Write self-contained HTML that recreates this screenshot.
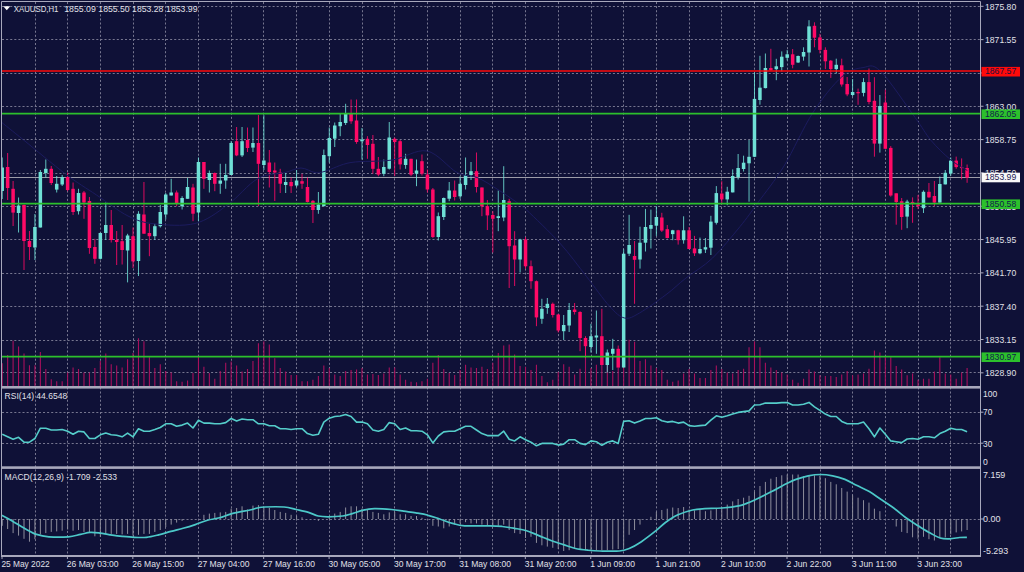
<!DOCTYPE html>
<html><head><meta charset="utf-8"><style>
html,body{margin:0;padding:0;background:#0f1137;width:1024px;height:572px;overflow:hidden}
text{white-space:pre}
</style></head><body><svg width="1024" height="572" viewBox="0 0 1024 572" style="display:block">
<rect x="0" y="0" width="1024" height="572" fill="#0f1137"/>
<defs>
<clipPath id="cm"><rect x="1.5" y="1.5" width="478.5" height="385"/></clipPath>
<clipPath id="main"><rect x="2" y="2" width="978" height="384"/></clipPath>
<clipPath id="rsi"><rect x="2" y="389" width="978" height="77"/></clipPath>
<clipPath id="macd"><rect x="2" y="469" width="978" height="86"/></clipPath>
</defs>
<path d="M35.5 2V555M67.5 2V555M100.5 2V555M133.5 2V555M165.5 2V555M198.5 2V555M231.5 2V555M263.5 2V555M296.5 2V555M329.5 2V555M362.5 2V555M394.5 2V555M427.5 2V555M460.5 2V555M492.5 2V555M525.5 2V555M558.5 2V555M591.5 2V555M623.5 2V555M656.5 2V555M689.5 2V555M721.5 2V555M754.5 2V555M787.5 2V555M820.5 2V555M852.5 2V555M885.5 2V555M918.5 2V555M950.5 2V555M2 6.5H980M2 39.5H980M2 73.5H980M2 106.5H980M2 139.5H980M2 173.5H980M2 206.5H980M2 239.5H980M2 273.5H980M2 306.5H980M2 340.5H980M2 372.5H980M2 412.5H980M2 443.5H980M2 519.5H980" stroke="#76768f" stroke-width="1" fill="none" stroke-dasharray="2.05 2.05"/>
<g clip-path="url(#main)">
<path d="M2.20 386V363.2M7.65 386V355.0M13.10 386V340.7M18.55 386V346.6M24.01 386V353.4M29.46 386V365.2M34.91 386V365.2M40.36 386V351.9M45.81 386V369.0M51.26 386V379.2M56.71 386V381.2M62.17 386V381.2M67.62 386V372.6M73.07 386V367.5M78.52 386V369.0M83.97 386V372.6M89.42 386V372.6M94.87 386V368.0M100.33 386V360.9M105.78 386V353.4M111.23 386V364.2M116.68 386V365.5M122.13 386V367.5M127.58 386V359.3M133.03 386V353.0M138.48 386V338.2M143.94 386V341.3M149.39 386V357.3M154.84 386V368.0M160.29 386V364.2M165.74 386V371.0M171.19 386V372.6M176.64 386V381.2M182.10 386V381.8M187.55 386V380.4M193.00 386V373.0M198.45 386V356.4M203.90 386V366.7M209.35 386V373.0M214.80 386V378.8M220.26 386V371.0M225.71 386V362.8M231.16 386V361.6M236.61 386V365.5M242.06 386V371.4M247.51 386V369.0M252.96 386V360.9M258.42 386V343.3M263.87 386V341.3M269.32 386V344.6M274.77 386V358.3M280.22 386V368.0M285.67 386V371.4M291.12 386V374.9M296.58 386V374.9M302.03 386V381.2M307.48 386V381.2M312.93 386V379.8M318.38 386V375.9M323.83 386V365.5M329.28 386V368.0M334.74 386V374.5M340.19 386V375.9M345.64 386V371.0M351.09 386V370.0M356.54 386V369.5M361.99 386V368.0M367.44 386V374.5M372.90 386V373.9M378.35 386V374.9M383.80 386V373.4M389.25 386V367.5M394.70 386V367.5M400.15 386V374.5M405.60 386V379.8M411.05 386V381.8M416.51 386V382.3M421.96 386V381.2M427.41 386V378.8M432.86 386V362.8M438.31 386V355.0M443.76 386V369.0M449.21 386V373.0M454.67 386V374.9M460.12 386V370.0M465.57 386V364.8M471.02 386V367.5M476.47 386V368.0M481.92 386V366.7M487.37 386V369.0M492.83 386V362.8M498.28 386V353.0M503.73 386V345.6M509.18 386V344.6M514.63 386V354.4M520.08 386V366.1M525.53 386V366.7M530.99 386V370.0M536.44 386V364.8M541.89 386V375.9M547.34 386V382.3M552.79 386V379.8M558.24 386V372.0M563.69 386V364.2M569.15 386V366.7M574.60 386V374.5M580.05 386V368.7M585.50 386V337.8M590.95 386V368.0M596.40 386V364.8M601.85 386V365.0M607.31 386V365.0M612.76 386V371.0M618.21 386V368.0M623.66 386V343.7M629.11 386V339.8M634.56 386V341.7M640.01 386V360.9M645.47 386V359.3M650.92 386V365.5M656.37 386V368.0M661.82 386V370.0M667.27 386V379.8M672.72 386V381.8M678.17 386V380.4M683.62 386V373.4M689.08 386V369.0M694.53 386V373.4M699.98 386V377.9M705.43 386V377.9M710.88 386V370.0M716.33 386V365.5M721.78 386V369.0M727.24 386V372.6M732.69 386V373.4M738.14 386V370.0M743.59 386V368.7M749.04 386V347.2M754.49 386V341.3M759.94 386V347.2M765.40 386V362.8M770.85 386V367.5M776.30 386V370.0M781.75 386V372.6M787.20 386V374.5M792.65 386V379.8M798.10 386V382.7M803.56 386V378.8M809.01 386V369.5M814.46 386V371.4M819.91 386V375.3M825.36 386V375.9M830.81 386V375.9M836.26 386V376.9M841.72 386V374.5M847.17 386V371.0M852.62 386V375.3M858.07 386V374.5M863.52 386V373.4M868.97 386V368.7M874.42 386V350.5M879.88 386V352.5M885.33 386V357.3M890.78 386V357.3M896.23 386V366.1M901.68 386V369.5M907.13 386V375.3M912.58 386V373.4M918.04 386V379.8M923.49 386V378.8M928.94 386V378.8M934.39 386V371.4M939.84 386V357.3M945.29 386V373.4M950.74 386V374.5M956.19 386V378.8M961.65 386V372.6M967.10 386V368.0" stroke="#a8105c" stroke-width="1.1" fill="none"/>
<line x1="2" y1="177.5" x2="980" y2="177.5" stroke="#9c9ca8" stroke-width="1"/>
<path d="M2.20 157.5V199.0M18.55 197.5V232.5M34.91 214.0V260.0M40.36 170.0V227.5M45.81 159.5V177.5M56.71 176.0V192.5M62.17 175.0V186.0M78.52 188.8V214.5M100.33 232.5V259.5M105.78 202.5V240.0M127.58 233.8V282.4M138.48 211.2V276.0M154.84 223.8V240.0M160.29 205.0V227.5M165.74 193.0V219.5M171.19 178.8V195.5M182.10 196.2V209.5M187.55 178.0V198.8M198.45 157.5V221.2M209.35 170.5V192.5M220.26 163.8V193.8M225.71 163.8V188.8M231.16 141.2V175.0M242.06 127.0V157.0M252.96 127.5V152.0M263.87 115.2V170.0M285.67 173.0V193.0M296.58 170.0V187.0M318.38 192.0V213.8M323.83 149.5V206.2M329.28 127.5V162.5M334.74 122.5V147.0M340.19 113.8V136.2M345.64 103.8V125.0M361.99 128.0V159.5M383.80 159.5V176.2M389.25 122.0V169.5M405.60 153.8V168.8M416.51 159.5V186.2M438.31 212.5V240.5M443.76 197.5V220.0M449.21 182.0V201.2M460.12 176.2V198.8M465.57 157.5V189.5M471.02 162.0V180.0M498.28 190.5V231.2M503.73 166.2V221.2M520.08 238.8V272.5M541.89 298.8V323.8M547.34 298.0V313.8M563.69 315.0V340.0M569.15 303.0V332.0M590.95 323.8V352.5M596.40 310.5V353.8M607.31 349.5V372.5M612.76 338.8V370.0M623.66 249.4V367.5M629.11 214.8V256.0M640.01 226.7V268.6M645.47 208.9V251.5M650.92 209.6V248.5M656.37 206.2V235.9M672.72 229.8V240.2M683.62 216.3V243.7M699.98 237.6V254.2M705.43 238.0V253.0M710.88 215.8V255.0M716.33 186.1V224.5M727.24 186.8V205.2M732.69 169.4V192.4M738.14 154.0V179.5M743.59 155.7V171.5M749.04 140.0V201.7M754.49 72.4V157.0M759.94 55.8V104.7M765.40 53.5V88.4M776.30 58.8V80.2M781.75 51.4V71.5M787.20 49.9V60.4M798.10 55.5V63.0M803.56 47.3V60.7M809.01 20.2V66.5M836.26 58.7V73.5M852.62 79.0V96.4M863.52 78.1V96.4M879.88 95.0V152.6M907.13 199.8V228.2M923.49 190.4V213.0M939.84 176.5V202.6M945.29 170.0V184.4M950.74 157.5V175.8" stroke="#6fe0d6" stroke-width="1" fill="none" opacity="0.85"/>
<path d="M7.65 153.0V200.0M13.10 181.0V226.0M24.01 204.5V270.0M29.46 231.0V260.0M51.26 166.0V185.0M67.62 172.5V191.2M73.07 182.5V215.0M83.97 191.0V218.8M89.42 197.0V253.8M94.87 238.8V263.8M111.23 210.0V242.5M116.68 231.0V265.0M122.13 225.0V264.5M133.03 227.5V268.0M143.94 182.0V233.8M149.39 223.8V256.2M176.64 190.5V206.2M193.00 183.8V221.2M203.90 162.0V188.8M214.80 172.5V191.2M236.61 127.0V156.2M247.51 127.5V152.0M258.42 115.0V206.0M269.32 150.0V187.5M274.77 162.5V201.0M280.22 168.8V193.0M291.12 177.5V193.0M302.03 173.8V188.8M307.48 177.5V202.5M312.93 200.0V223.0M351.09 99.5V123.8M356.54 99.5V143.8M367.44 136.2V158.8M372.90 135.0V173.8M378.35 157.0V176.2M394.70 137.5V176.0M400.15 140.0V169.5M411.05 158.8V176.2M421.96 154.5V175.5M427.41 169.5V192.5M432.86 188.0V238.0M454.67 180.5V200.5M476.47 152.5V192.5M481.92 187.5V216.2M487.37 200.0V230.0M492.83 211.2V252.5M509.18 198.8V288.0M514.63 231.2V286.0M525.53 237.0V268.8M530.99 260.5V288.8M536.44 280.5V326.2M552.79 302.5V317.5M558.24 313.8V332.5M574.60 303.0V314.5M580.05 311.2V351.2M585.50 336.2V358.0M601.85 308.8V365.0M618.21 345.5V367.5M634.56 241.0V303.8M661.82 212.8V232.0M667.27 225.0V238.5M678.17 229.8V244.6M689.08 227.0V249.0M694.53 235.9V256.0M721.78 181.2V204.3M770.85 48.8V70.6M792.65 49.0V68.3M814.46 22.3V47.3M819.91 33.9V53.4M825.36 47.3V69.1M830.81 60.0V77.9M841.72 58.7V86.6M847.17 77.0V96.2M858.07 88.6V104.8M868.97 68.5V104.3M874.42 77.2V156.7M885.33 89.8V148.8M890.78 146.1V196.7M896.23 193.3V224.7M901.68 198.0V229.8M912.58 197.4V222.8M918.04 194.9V209.2M928.94 183.0V197.7M934.39 181.0V206.1M956.19 156.6V168.8M961.65 158.4V179.3M967.10 164.5V182.8" stroke="#ff0a66" stroke-width="1" fill="none" opacity="0.85"/>
<g fill="#6fe0d6"><rect x="0.45" y="167.5" width="3.5" height="23.5"/><rect x="16.80" y="205.5" width="3.5" height="7.5"/><rect x="33.16" y="227.0" width="3.5" height="20.5"/><rect x="38.61" y="172.0" width="3.5" height="55.5"/><rect x="44.06" y="168.8" width="3.5" height="4.2"/><rect x="54.96" y="183.8" width="3.5" height="5.8"/><rect x="60.42" y="177.0" width="3.5" height="7.5"/><rect x="76.77" y="193.0" width="3.5" height="18.2"/><rect x="98.58" y="233.0" width="3.5" height="25.8"/><rect x="104.03" y="225.0" width="3.5" height="8.0"/><rect x="125.83" y="235.5" width="3.5" height="15.0"/><rect x="136.73" y="213.8" width="3.5" height="47.2"/><rect x="153.09" y="226.2" width="3.5" height="10.0"/><rect x="158.54" y="212.0" width="3.5" height="14.2"/><rect x="163.99" y="194.5" width="3.5" height="20.0"/><rect x="169.44" y="192.5" width="3.5" height="3.0"/><rect x="180.35" y="198.0" width="3.5" height="8.2"/><rect x="185.80" y="187.0" width="3.5" height="11.8"/><rect x="196.70" y="162.0" width="3.5" height="50.5"/><rect x="207.60" y="173.0" width="3.5" height="7.0"/><rect x="218.51" y="180.5" width="3.5" height="3.2"/><rect x="223.96" y="175.0" width="3.5" height="5.5"/><rect x="229.41" y="143.0" width="3.5" height="32.0"/><rect x="240.31" y="141.2" width="3.5" height="14.2"/><rect x="251.21" y="143.0" width="3.5" height="4.6"/><rect x="262.12" y="160.5" width="3.5" height="4.5"/><rect x="283.92" y="182.0" width="3.5" height="3.0"/><rect x="294.83" y="180.5" width="3.5" height="5.0"/><rect x="316.63" y="204.5" width="3.5" height="5.5"/><rect x="322.08" y="155.0" width="3.5" height="51.2"/><rect x="327.53" y="138.0" width="3.5" height="18.2"/><rect x="332.99" y="125.5" width="3.5" height="13.2"/><rect x="338.44" y="122.0" width="3.5" height="4.2"/><rect x="343.89" y="113.8" width="3.5" height="9.2"/><rect x="360.24" y="139.5" width="3.5" height="1.8"/><rect x="382.05" y="167.0" width="3.5" height="6.8"/><rect x="387.50" y="137.5" width="3.5" height="31.2"/><rect x="403.85" y="158.8" width="3.5" height="6.2"/><rect x="414.76" y="170.5" width="3.5" height="3.2"/><rect x="436.56" y="216.2" width="3.5" height="20.8"/><rect x="442.01" y="198.0" width="3.5" height="19.0"/><rect x="447.46" y="190.5" width="3.5" height="8.2"/><rect x="458.37" y="183.8" width="3.5" height="12.5"/><rect x="463.82" y="175.0" width="3.5" height="10.0"/><rect x="469.27" y="171.2" width="3.5" height="3.8"/><rect x="496.53" y="216.2" width="3.5" height="1.8"/><rect x="501.98" y="200.0" width="3.5" height="17.5"/><rect x="518.33" y="239.5" width="3.5" height="20.0"/><rect x="540.14" y="308.8" width="3.5" height="10.0"/><rect x="545.59" y="303.8" width="3.5" height="4.2"/><rect x="561.94" y="325.0" width="3.5" height="6.2"/><rect x="567.40" y="310.0" width="3.5" height="15.5"/><rect x="589.20" y="336.2" width="3.5" height="10.8"/><rect x="594.65" y="335.5" width="3.5" height="2.0"/><rect x="605.56" y="352.5" width="3.5" height="12.5"/><rect x="611.01" y="348.8" width="3.5" height="5.0"/><rect x="621.91" y="253.7" width="3.5" height="113.8"/><rect x="627.36" y="245.0" width="3.5" height="8.7"/><rect x="638.26" y="242.7" width="3.5" height="16.8"/><rect x="643.72" y="227.0" width="3.5" height="15.7"/><rect x="649.17" y="225.0" width="3.5" height="3.8"/><rect x="654.62" y="217.0" width="3.5" height="8.7"/><rect x="670.97" y="230.3" width="3.5" height="3.8"/><rect x="681.88" y="230.3" width="3.5" height="9.9"/><rect x="698.23" y="249.0" width="3.5" height="4.3"/><rect x="703.68" y="247.2" width="3.5" height="2.3"/><rect x="709.13" y="221.6" width="3.5" height="26.1"/><rect x="714.58" y="193.1" width="3.5" height="29.7"/><rect x="725.49" y="191.7" width="3.5" height="7.7"/><rect x="730.94" y="176.0" width="3.5" height="16.4"/><rect x="736.39" y="168.0" width="3.5" height="9.2"/><rect x="741.84" y="162.7" width="3.5" height="6.3"/><rect x="747.29" y="156.8" width="3.5" height="6.5"/><rect x="752.74" y="98.9" width="3.5" height="57.9"/><rect x="758.19" y="87.7" width="3.5" height="12.3"/><rect x="763.65" y="68.0" width="3.5" height="20.1"/><rect x="774.55" y="66.3" width="3.5" height="2.9"/><rect x="780.00" y="56.7" width="3.5" height="10.4"/><rect x="785.45" y="54.3" width="3.5" height="3.5"/><rect x="796.35" y="56.0" width="3.5" height="6.5"/><rect x="801.81" y="52.0" width="3.5" height="4.6"/><rect x="807.26" y="26.4" width="3.5" height="26.1"/><rect x="834.51" y="64.8" width="3.5" height="4.3"/><rect x="850.87" y="92.0" width="3.5" height="3.0"/><rect x="861.77" y="82.1" width="3.5" height="10.8"/><rect x="878.13" y="106.0" width="3.5" height="37.6"/><rect x="905.38" y="201.6" width="3.5" height="15.0"/><rect x="921.74" y="191.8" width="3.5" height="16.4"/><rect x="938.09" y="184.0" width="3.5" height="18.6"/><rect x="943.54" y="172.8" width="3.5" height="11.6"/><rect x="948.99" y="160.6" width="3.5" height="13.0"/></g>
<g fill="#ff0a66"><rect x="5.90" y="167.0" width="3.5" height="21.0"/><rect x="11.35" y="188.8" width="3.5" height="23.8"/><rect x="22.26" y="205.0" width="3.5" height="36.0"/><rect x="27.71" y="241.0" width="3.5" height="6.0"/><rect x="49.51" y="168.8" width="3.5" height="14.2"/><rect x="65.87" y="177.0" width="3.5" height="13.0"/><rect x="71.32" y="188.8" width="3.5" height="23.2"/><rect x="82.22" y="192.5" width="3.5" height="10.0"/><rect x="87.67" y="201.0" width="3.5" height="47.0"/><rect x="93.12" y="247.0" width="3.5" height="11.8"/><rect x="109.48" y="225.0" width="3.5" height="15.0"/><rect x="114.93" y="240.0" width="3.5" height="2.0"/><rect x="120.38" y="241.2" width="3.5" height="8.8"/><rect x="131.28" y="236.2" width="3.5" height="25.2"/><rect x="142.19" y="214.5" width="3.5" height="19.2"/><rect x="147.64" y="233.0" width="3.5" height="3.2"/><rect x="174.89" y="192.5" width="3.5" height="11.2"/><rect x="191.25" y="187.5" width="3.5" height="26.2"/><rect x="202.15" y="162.0" width="3.5" height="16.8"/><rect x="213.05" y="173.0" width="3.5" height="10.8"/><rect x="234.86" y="141.2" width="3.5" height="14.2"/><rect x="245.76" y="140.0" width="3.5" height="8.0"/><rect x="256.67" y="143.0" width="3.5" height="20.8"/><rect x="267.57" y="162.5" width="3.5" height="9.5"/><rect x="273.02" y="170.5" width="3.5" height="2.0"/><rect x="278.47" y="172.5" width="3.5" height="11.2"/><rect x="289.37" y="182.0" width="3.5" height="4.2"/><rect x="300.28" y="181.2" width="3.5" height="2.5"/><rect x="305.73" y="187.0" width="3.5" height="15.0"/><rect x="311.18" y="200.8" width="3.5" height="9.2"/><rect x="349.34" y="113.8" width="3.5" height="7.5"/><rect x="354.79" y="120.5" width="3.5" height="21.5"/><rect x="365.69" y="138.8" width="3.5" height="6.2"/><rect x="371.15" y="143.8" width="3.5" height="25.0"/><rect x="376.60" y="168.8" width="3.5" height="5.8"/><rect x="392.95" y="138.8" width="3.5" height="3.2"/><rect x="398.40" y="141.2" width="3.5" height="23.2"/><rect x="409.30" y="158.8" width="3.5" height="15.8"/><rect x="420.21" y="161.2" width="3.5" height="12.5"/><rect x="425.66" y="174.5" width="3.5" height="15.0"/><rect x="431.11" y="189.5" width="3.5" height="47.5"/><rect x="452.92" y="190.5" width="3.5" height="6.5"/><rect x="474.72" y="171.2" width="3.5" height="15.8"/><rect x="480.17" y="187.5" width="3.5" height="18.8"/><rect x="485.62" y="206.2" width="3.5" height="9.2"/><rect x="491.08" y="215.0" width="3.5" height="3.8"/><rect x="507.43" y="201.2" width="3.5" height="45.0"/><rect x="512.88" y="245.5" width="3.5" height="14.0"/><rect x="523.78" y="239.5" width="3.5" height="26.8"/><rect x="529.24" y="266.2" width="3.5" height="15.0"/><rect x="534.69" y="281.2" width="3.5" height="36.2"/><rect x="551.04" y="303.8" width="3.5" height="11.2"/><rect x="556.49" y="314.5" width="3.5" height="16.0"/><rect x="572.85" y="309.5" width="3.5" height="2.5"/><rect x="578.30" y="312.0" width="3.5" height="26.0"/><rect x="583.75" y="338.0" width="3.5" height="8.2"/><rect x="600.10" y="336.2" width="3.5" height="28.8"/><rect x="616.46" y="348.8" width="3.5" height="18.8"/><rect x="632.81" y="256.0" width="3.5" height="3.8"/><rect x="660.07" y="217.5" width="3.5" height="13.1"/><rect x="665.52" y="229.2" width="3.5" height="8.8"/><rect x="676.42" y="230.3" width="3.5" height="9.9"/><rect x="687.33" y="230.3" width="3.5" height="18.7"/><rect x="692.78" y="248.4" width="3.5" height="4.9"/><rect x="720.03" y="193.5" width="3.5" height="5.9"/><rect x="769.10" y="68.0" width="3.5" height="2.3"/><rect x="790.90" y="54.3" width="3.5" height="10.5"/><rect x="812.71" y="25.8" width="3.5" height="11.9"/><rect x="818.16" y="37.4" width="3.5" height="12.5"/><rect x="823.61" y="49.9" width="3.5" height="11.4"/><rect x="829.06" y="60.7" width="3.5" height="8.4"/><rect x="839.97" y="65.3" width="3.5" height="19.2"/><rect x="845.42" y="84.0" width="3.5" height="10.4"/><rect x="856.32" y="92.0" width="3.5" height="1.3"/><rect x="867.22" y="82.1" width="3.5" height="19.9"/><rect x="872.67" y="100.8" width="3.5" height="42.8"/><rect x="883.58" y="102.5" width="3.5" height="46.3"/><rect x="889.03" y="147.9" width="3.5" height="47.6"/><rect x="894.48" y="193.3" width="3.5" height="8.7"/><rect x="899.93" y="201.2" width="3.5" height="15.8"/><rect x="910.83" y="201.9" width="3.5" height="1.0"/><rect x="916.29" y="204.4" width="3.5" height="1.7"/><rect x="927.19" y="191.8" width="3.5" height="5.6"/><rect x="932.64" y="196.0" width="3.5" height="6.6"/><rect x="954.44" y="160.6" width="3.5" height="6.5"/><rect x="959.90" y="167.1" width="3.5" height="1.0"/><rect x="965.35" y="168.0" width="3.5" height="9.6"/></g>
<path d="M0.0 121.0C3.9 124.2 12.7 131.2 23.6 140.0C34.5 148.8 53.4 164.8 65.5 174.0C77.7 183.2 86.1 188.0 96.5 195.0C106.9 202.0 118.4 211.2 128.0 216.0C137.6 220.8 142.8 222.5 154.0 223.8C165.2 225.0 182.8 226.6 195.0 223.5C207.2 220.4 217.1 212.5 227.5 205.0C237.9 197.5 247.9 184.2 257.5 178.8C267.1 173.3 277.8 174.3 285.0 172.5C292.2 170.7 296.0 168.0 301.0 168.0C306.0 168.0 310.8 172.0 315.0 172.5C319.2 173.0 320.0 172.7 326.0 171.0C332.0 169.3 340.0 164.3 351.0 162.5C362.0 160.7 379.3 161.9 392.0 160.0C404.7 158.1 416.2 148.9 427.0 151.0C437.8 153.1 448.7 168.1 457.0 172.5C465.3 176.9 470.3 174.8 477.0 177.5C483.7 180.2 490.3 184.8 497.0 189.0C503.7 193.2 512.1 199.0 517.0 202.5C521.9 206.0 519.5 203.2 526.6 210.0C533.7 216.8 549.8 231.9 559.8 243.0C569.8 254.1 578.1 265.8 586.4 276.4C594.7 286.9 603.2 299.4 609.6 306.3C616.0 313.2 619.6 316.9 624.6 318.0C629.6 319.1 632.6 316.9 639.5 313.0C646.4 309.1 658.2 300.5 666.0 294.7C673.8 288.9 678.2 284.1 686.0 278.0C693.8 271.9 703.6 266.6 712.6 258.0C721.6 249.4 732.4 235.8 740.0 226.6C747.6 217.3 750.7 212.6 758.0 202.5C765.3 192.4 774.9 180.9 784.0 166.0C793.1 151.1 803.2 127.6 812.8 112.8C822.4 98.0 833.2 84.5 841.6 77.0C850.0 69.5 856.5 68.6 863.0 67.6C869.5 66.6 871.7 62.8 880.4 71.1C889.1 79.4 906.6 105.9 915.0 117.4C923.4 128.9 924.9 133.0 930.7 140.0C936.5 147.0 943.9 154.1 950.0 159.2C956.1 164.3 964.5 168.7 967.4 170.6" fill="none" stroke="#1b1b5e" stroke-width="1"/>
<line x1="2" y1="71" x2="980" y2="71" stroke="#ff0a0a" stroke-width="1.7"/>
<line x1="2" y1="113.6" x2="980" y2="113.6" stroke="#2cc02c" stroke-width="1.7"/>
<line x1="2" y1="203.6" x2="980" y2="203.6" stroke="#2cc02c" stroke-width="1.7"/>
<line x1="2" y1="356.6" x2="980" y2="356.6" stroke="#2cc02c" stroke-width="1.7"/>
</g>
<g clip-path="url(#rsi)">
<polyline fill="none" stroke="#55cdca" stroke-width="1.6" stroke-linejoin="round" points="2.20,434.3 7.65,436.8 13.10,439.2 18.55,437.3 24.01,442.2 29.46,442.2 34.91,438.5 40.36,428.2 45.81,428.2 51.26,430.0 56.71,430.0 62.17,429.5 67.62,431.2 73.07,434.3 78.52,431.2 83.97,431.9 89.42,438.5 94.87,438.5 100.33,434.8 105.78,433.1 111.23,434.8 116.68,435.3 122.13,436.8 127.58,433.1 133.03,436.8 138.48,428.7 143.94,431.2 149.39,431.2 154.84,429.5 160.29,427.5 165.74,423.8 171.19,423.8 176.64,426.3 182.10,425.1 187.55,423.1 193.00,428.0 198.45,420.2 203.90,423.1 209.35,423.1 214.80,423.8 220.26,423.8 225.71,422.6 231.16,418.5 236.61,420.9 242.06,419.0 247.51,419.7 252.96,419.7 258.42,423.8 263.87,423.8 269.32,425.8 274.77,425.8 280.22,428.7 285.67,428.7 291.12,429.5 296.58,428.7 302.03,428.7 307.48,433.6 312.93,435.3 318.38,434.3 323.83,422.1 329.28,418.2 334.74,416.5 340.19,416.0 345.64,414.6 351.09,416.5 356.54,422.1 361.99,422.1 367.44,423.8 372.90,430.0 378.35,431.2 383.80,429.5 389.25,422.6 394.70,423.8 400.15,429.5 405.60,428.0 411.05,430.7 416.51,430.7 421.96,431.2 427.41,434.8 432.86,442.9 438.31,436.0 443.76,431.9 449.21,431.2 454.67,431.2 460.12,428.7 465.57,426.3 471.02,426.3 476.47,430.0 481.92,433.6 487.37,435.6 492.83,435.6 498.28,435.6 503.73,431.2 509.18,439.2 514.63,440.9 520.08,436.8 525.53,439.7 530.99,442.2 536.44,445.8 541.89,443.4 547.34,443.4 552.79,443.4 558.24,445.1 563.69,444.1 569.15,439.7 574.60,439.7 580.05,443.4 585.50,444.6 590.95,440.9 596.40,441.7 601.85,445.3 607.31,442.2 612.76,440.9 618.21,443.4 623.66,421.4 629.11,420.7 634.56,423.1 640.01,420.9 645.47,418.5 650.92,418.5 656.37,417.7 661.82,420.7 667.27,422.1 672.72,421.4 678.17,423.1 683.62,422.1 689.08,425.6 694.53,426.3 699.98,425.6 705.43,425.1 710.88,420.2 716.33,415.8 721.78,417.3 727.24,415.8 732.69,414.1 738.14,412.4 743.59,411.6 749.04,410.9 754.49,405.0 759.94,404.8 765.40,403.1 770.85,403.1 776.30,403.1 781.75,402.6 787.20,402.6 792.65,405.0 798.10,405.0 803.56,404.3 809.01,402.4 814.46,406.8 819.91,410.4 825.36,414.1 830.81,416.5 836.26,416.5 841.72,421.4 847.17,423.8 852.62,423.8 858.07,423.8 863.52,422.1 868.97,428.7 874.42,436.8 879.88,428.0 885.33,434.3 890.78,440.9 896.23,441.7 901.68,442.6 907.13,439.0 912.58,438.5 918.04,439.2 923.49,436.8 928.94,436.8 934.39,437.8 939.84,433.6 945.29,431.2 950.74,428.2 956.19,429.5 961.65,429.5 967.10,431.7"/>
</g>
<g clip-path="url(#macd)">
<path d="M2.20 519V525.8M7.65 519V529.0M13.10 519V533.1M18.55 519V535.6M24.01 519V538.8M29.46 519V541.7M34.91 519V539.2M40.36 519V534.4M45.81 519V533.1M51.26 519V531.9M56.71 519V531.4M62.17 519V530.7M67.62 519V529.5M73.07 519V530.7M78.52 519V530.0M83.97 519V531.9M89.42 519V532.4M94.87 519V536.3M100.33 519V536.8M105.78 519V533.9M111.23 519V533.9M116.68 519V533.9M122.13 519V534.4M127.58 519V533.9M133.03 519V535.6M138.48 519V534.8M143.94 519V533.9M149.39 519V533.9M154.84 519V531.9M160.29 519V530.0M165.74 519V527.0M171.19 519V524.6M176.64 519V522.6M182.10 519V520.9M203.90 519V514.8M209.35 519V513.6M214.80 519V512.9M220.26 519V512.4M225.71 519V511.9M231.16 519V508.7M236.61 519V508.0M242.06 519V506.3M247.51 519V509.5M252.96 519V505.6M258.42 519V505.1M263.87 519V507.0M269.32 519V508.0M274.77 519V510.0M280.22 519V511.9M285.67 519V512.9M291.12 519V514.8M296.58 519V516.0M302.03 519V517.3M318.38 519V520.9M329.28 519V517.3M334.74 519V513.6M340.19 519V511.9M345.64 519V507.5M351.09 519V506.3M356.54 519V506.3M361.99 519V508.7M367.44 519V510.0M372.90 519V511.9M378.35 519V512.9M383.80 519V514.3M389.25 519V512.4M394.70 519V511.9M400.15 519V514.3M405.60 519V514.3M411.05 519V516.0M416.51 519V516.0M421.96 519V517.8M432.86 519V525.8M438.31 519V526.5M443.76 519V528.3M449.21 519V526.5M454.67 519V524.6M460.12 519V523.4M465.57 519V522.2M471.02 519V523.4M476.47 519V523.4M481.92 519V524.6M487.37 519V525.8M492.83 519V525.8M498.28 519V525.8M503.73 519V524.6M509.18 519V530.0M514.63 519V533.1M520.08 519V533.9M525.53 519V538.0M530.99 519V536.8M536.44 519V542.9M541.89 519V545.3M547.34 519V546.6M552.79 519V547.8M558.24 519V549.0M563.69 519V551.0M569.15 519V550.2M574.60 519V549.0M580.05 519V549.0M585.50 519V550.2M590.95 519V550.2M596.40 519V550.2M601.85 519V550.2M607.31 519V550.2M612.76 519V549.5M618.21 519V549.0M623.66 519V547.8M629.11 519V534.8M634.56 519V530.0M640.01 519V524.6M650.92 519V516.8M656.37 519V511.9M661.82 519V510.0M667.27 519V508.7M672.72 519V507.5M678.17 519V508.0M683.62 519V507.0M689.08 519V509.5M694.53 519V510.4M699.98 519V510.0M705.43 519V511.2M710.88 519V510.4M716.33 519V508.7M721.78 519V507.0M727.24 519V504.6M732.69 519V501.4M738.14 519V499.0M743.59 519V497.7M749.04 519V495.8M754.49 519V491.6M759.94 519V486.0M765.40 519V481.9M770.85 519V478.7M776.30 519V477.0M781.75 519V475.3M787.20 519V474.5M792.65 519V474.5M798.10 519V474.5M803.56 519V476.3M809.01 519V475.3M814.46 519V475.3M819.91 519V475.8M825.36 519V478.2M830.81 519V481.9M836.26 519V484.3M841.72 519V488.0M847.17 519V491.6M852.62 519V495.3M858.07 519V497.7M863.52 519V500.2M868.97 519V502.6M874.42 519V508.7M879.88 519V511.2M896.23 519V526.5M901.68 519V531.9M907.13 519V533.1M912.58 519V537.3M918.04 519V538.8M923.49 519V536.8M928.94 519V539.2M934.39 519V540.5M939.84 519V538.0M945.29 519V537.3M950.74 519V534.4M956.19 519V532.4M961.65 519V531.4M967.10 519V530.0" stroke="#8e8e9c" stroke-width="1" fill="none"/>
<path d="M2.0 515.3C3.7 516.2 8.5 518.7 12.2 520.9C15.9 523.1 20.3 526.0 24.4 528.3C28.5 530.5 32.5 533.0 36.6 534.4C40.7 535.8 43.5 536.4 48.8 536.8C54.1 537.2 63.1 537.2 68.4 536.8C73.7 536.4 76.9 535.1 80.6 534.4C84.2 533.7 87.0 532.6 90.3 532.4C93.5 532.2 96.8 532.7 100.1 533.1C103.4 533.5 106.2 534.3 109.9 534.8C113.6 535.3 118.0 535.9 122.1 536.3C126.2 536.7 130.2 537.1 134.3 537.3C138.4 537.5 142.4 537.7 146.5 537.3C150.6 536.9 154.6 535.8 158.7 534.8C162.8 533.8 166.8 532.5 170.9 531.4C175.0 530.3 179.0 529.4 183.1 528.3C187.2 527.2 191.2 526.0 195.3 524.6C199.4 523.2 203.4 521.3 207.5 520.2C211.6 519.1 215.6 518.9 219.7 517.8C223.8 516.7 226.8 514.9 231.9 513.6C237.0 512.3 245.8 510.9 250.0 510.0C254.2 509.1 254.8 508.5 257.2 508.0C259.6 507.5 260.1 507.2 264.5 507.0C269.0 506.8 278.8 506.6 284.1 507.0C289.4 507.4 292.2 508.6 296.3 509.5C300.3 510.4 304.8 511.3 308.5 512.4C312.1 513.5 315.0 515.3 318.2 516.0C321.5 516.7 323.9 516.8 328.0 516.8C332.1 516.8 338.6 516.5 342.7 516.0C346.7 515.5 349.2 514.5 352.4 513.6C355.7 512.7 358.5 511.2 362.2 510.4C365.8 509.6 369.5 508.8 374.4 508.7C379.3 508.6 386.6 509.1 391.5 509.5C396.4 509.9 399.6 510.6 403.7 511.2C407.8 511.8 411.8 512.2 415.9 512.9C420.0 513.6 424.0 514.2 428.1 515.3C432.2 516.3 436.2 517.9 440.3 519.2C444.4 520.6 448.5 522.3 452.5 523.4C456.6 524.5 458.5 525.4 464.7 525.8C471.0 526.2 483.8 525.7 490.0 525.8C496.2 525.9 498.1 526.1 502.2 526.5C506.3 526.9 510.3 527.6 514.4 528.3C518.5 529.0 522.6 529.5 526.6 530.7C530.7 531.9 534.8 534.0 538.8 535.6C542.9 537.2 547.0 539.0 551.0 540.5C555.1 542.0 559.2 543.3 563.2 544.6C567.3 545.9 571.4 547.6 575.4 548.5C579.5 549.4 583.6 549.8 587.7 550.2C591.7 550.6 594.6 550.9 599.9 551.0C605.2 551.1 614.5 551.4 619.4 551.0C624.3 550.6 625.5 550.0 629.2 548.5C632.8 547.0 636.9 544.7 641.4 541.7C645.8 538.7 651.9 534.0 656.0 530.7C660.1 527.5 662.1 524.9 665.8 522.2C669.4 519.6 673.5 516.8 678.0 514.8C682.5 512.8 688.2 511.0 692.6 510.0C697.1 509.0 700.0 509.0 704.8 508.7C709.7 508.4 716.1 508.5 721.9 508.0C727.8 507.5 735.8 506.4 740.0 505.6C744.2 504.8 744.0 504.4 747.2 503.1C750.4 501.8 755.3 499.6 759.4 497.7C763.5 495.8 767.6 493.7 771.6 491.6C775.7 489.5 779.8 487.0 783.8 485.0C787.9 483.0 792.0 480.9 796.0 479.4C800.1 477.9 804.2 476.6 808.2 475.8C812.3 475.0 816.4 474.5 820.4 474.5C824.5 474.5 828.6 475.0 832.7 475.8C836.7 476.6 840.8 477.8 844.9 479.4C848.9 481.0 853.0 483.5 857.1 485.5C861.1 487.5 865.2 489.2 869.3 491.6C873.3 494.0 877.4 497.0 881.5 499.7C885.6 502.4 889.6 505.0 893.7 508.0C897.8 511.0 901.8 514.8 905.9 517.8C910.0 520.8 914.0 523.2 918.1 525.8C922.2 528.3 926.7 531.1 930.3 533.1C934.0 535.1 936.8 537.0 940.1 538.0C943.3 539.0 946.6 538.9 949.8 538.8C953.1 538.7 956.8 537.8 959.6 537.5C962.5 537.2 965.7 537.3 966.9 537.3" fill="none" stroke="#4cc8c8" stroke-width="1.7"/>
</g>
<path d="M1.5 1.5H980.5V556M1.5 1.5V556" stroke="#a8a8bc" stroke-width="1" fill="none"/>
<rect x="1" y="386" width="980" height="2.6" fill="#a8a8bc"/>
<rect x="1" y="466.3" width="980" height="2.6" fill="#a8a8bc"/>
<rect x="1" y="555" width="980" height="2" fill="#a8a8bc"/>
<path d="M980.5 6.30H983.5M980.5 39.62H983.5M980.5 72.94H983.5M980.5 106.26H983.5M980.5 139.58H983.5M980.5 172.90H983.5M980.5 206.22H983.5M980.5 239.54H983.5M980.5 272.86H983.5M980.5 306.18H983.5M980.5 339.50H983.5M980.5 372.82H983.5M980.5 412.20H983.5M980.5 443.20H983.5M980.5 519.00H983.5M2.00 556V559M67.42 556V559M132.83 556V559M198.25 556V559M263.67 556V559M329.09 556V559M394.50 556V559M459.92 556V559M525.34 556V559M590.75 556V559M656.17 556V559M721.59 556V559M787.01 556V559M852.42 556V559M917.84 556V559" stroke="#a8a8bc" stroke-width="1" fill="none"/>
<text x="985.0" y="76.1" font-family="Liberation Sans, sans-serif" font-size="9" fill="#e0e0e8" textLength="31.2" lengthAdjust="spacingAndGlyphs">1867.30</text>
<text x="985.0" y="176.4" font-family="Liberation Sans, sans-serif" font-size="9" fill="#e0e0e8" textLength="31.2" lengthAdjust="spacingAndGlyphs">1854.50</text>
<text x="985.0" y="209.5" font-family="Liberation Sans, sans-serif" font-size="9" fill="#e0e0e8" textLength="31.2" lengthAdjust="spacingAndGlyphs">1850.25</text>
<text x="985.0" y="9.5" font-family="Liberation Sans, sans-serif" font-size="9" fill="#e0e0e8" textLength="31.2" lengthAdjust="spacingAndGlyphs">1875.80</text>
<text x="985.0" y="42.8" font-family="Liberation Sans, sans-serif" font-size="9" fill="#e0e0e8" textLength="31.2" lengthAdjust="spacingAndGlyphs">1871.55</text>
<text x="985.0" y="109.5" font-family="Liberation Sans, sans-serif" font-size="9" fill="#e0e0e8" textLength="31.2" lengthAdjust="spacingAndGlyphs">1863.00</text>
<text x="985.0" y="142.8" font-family="Liberation Sans, sans-serif" font-size="9" fill="#e0e0e8" textLength="31.2" lengthAdjust="spacingAndGlyphs">1858.75</text>
<text x="985.0" y="243.1" font-family="Liberation Sans, sans-serif" font-size="9" fill="#e0e0e8" textLength="31.2" lengthAdjust="spacingAndGlyphs">1845.95</text>
<text x="985.0" y="276.4" font-family="Liberation Sans, sans-serif" font-size="9" fill="#e0e0e8" textLength="31.2" lengthAdjust="spacingAndGlyphs">1841.70</text>
<text x="985.0" y="309.8" font-family="Liberation Sans, sans-serif" font-size="9" fill="#e0e0e8" textLength="31.2" lengthAdjust="spacingAndGlyphs">1837.40</text>
<text x="985.0" y="343.3" font-family="Liberation Sans, sans-serif" font-size="9" fill="#e0e0e8" textLength="31.2" lengthAdjust="spacingAndGlyphs">1833.15</text>
<text x="985.0" y="376.0" font-family="Liberation Sans, sans-serif" font-size="9" fill="#e0e0e8" textLength="31.2" lengthAdjust="spacingAndGlyphs">1828.90</text>
<text x="983.0" y="397.1" font-family="Liberation Sans, sans-serif" font-size="9" fill="#e0e0e8" textLength="14.3" lengthAdjust="spacingAndGlyphs">100</text>
<text x="983.0" y="415.4" font-family="Liberation Sans, sans-serif" font-size="9" fill="#e0e0e8" textLength="9.3" lengthAdjust="spacingAndGlyphs">70</text>
<text x="983.0" y="446.5" font-family="Liberation Sans, sans-serif" font-size="9" fill="#e0e0e8" textLength="9.3" lengthAdjust="spacingAndGlyphs">30</text>
<text x="983.0" y="464.7" font-family="Liberation Sans, sans-serif" font-size="9" fill="#e0e0e8" textLength="4.8" lengthAdjust="spacingAndGlyphs">0</text>
<text x="983.0" y="477.8" font-family="Liberation Sans, sans-serif" font-size="9" fill="#e0e0e8" textLength="22.3" lengthAdjust="spacingAndGlyphs">7.159</text>
<text x="983.0" y="522.0" font-family="Liberation Sans, sans-serif" font-size="9" fill="#e0e0e8" textLength="17.5" lengthAdjust="spacingAndGlyphs">0.00</text>
<text x="983.0" y="553.8" font-family="Liberation Sans, sans-serif" font-size="9" fill="#e0e0e8" textLength="25.2" lengthAdjust="spacingAndGlyphs">-5.293</text>
<rect x="981.5" y="66.9" width="38.5" height="9.6" fill="#ff0a0a"/>
<text x="985.0" y="74.3" font-family="Liberation Sans, sans-serif" font-size="9" fill="#1a1040" textLength="31.2" lengthAdjust="spacingAndGlyphs">1867.57</text>
<rect x="981.5" y="109.4" width="38.5" height="9.6" fill="#2cc02c"/>
<text x="985.0" y="116.8" font-family="Liberation Sans, sans-serif" font-size="9" fill="#10204a" textLength="31.2" lengthAdjust="spacingAndGlyphs">1862.05</text>
<rect x="981.5" y="172.7" width="38.5" height="9.6" fill="#f8f8f8"/>
<text x="985.0" y="180.1" font-family="Liberation Sans, sans-serif" font-size="9" fill="#1a1a50" textLength="31.2" lengthAdjust="spacingAndGlyphs">1853.99</text>
<rect x="981.5" y="199.4" width="38.5" height="9.6" fill="#2cc02c"/>
<text x="985.0" y="206.8" font-family="Liberation Sans, sans-serif" font-size="9" fill="#10204a" textLength="31.2" lengthAdjust="spacingAndGlyphs">1850.58</text>
<rect x="981.5" y="352.4" width="38.5" height="9.6" fill="#2cc02c"/>
<text x="985.0" y="359.8" font-family="Liberation Sans, sans-serif" font-size="9" fill="#10204a" textLength="31.2" lengthAdjust="spacingAndGlyphs">1830.97</text>
<text x="1.4" y="566.8" font-family="Liberation Sans, sans-serif" font-size="9" fill="#e0e0e8" textLength="48.3" lengthAdjust="spacingAndGlyphs">25 May 2022</text>
<text x="66.8" y="566.8" font-family="Liberation Sans, sans-serif" font-size="9" fill="#e0e0e8" textLength="51.8" lengthAdjust="spacingAndGlyphs">26 May 03:00</text>
<text x="132.2" y="566.8" font-family="Liberation Sans, sans-serif" font-size="9" fill="#e0e0e8" textLength="51.8" lengthAdjust="spacingAndGlyphs">26 May 15:00</text>
<text x="197.7" y="566.8" font-family="Liberation Sans, sans-serif" font-size="9" fill="#e0e0e8" textLength="51.8" lengthAdjust="spacingAndGlyphs">27 May 04:00</text>
<text x="263.1" y="566.8" font-family="Liberation Sans, sans-serif" font-size="9" fill="#e0e0e8" textLength="51.8" lengthAdjust="spacingAndGlyphs">27 May 16:00</text>
<text x="328.5" y="566.8" font-family="Liberation Sans, sans-serif" font-size="9" fill="#e0e0e8" textLength="51.8" lengthAdjust="spacingAndGlyphs">30 May 05:00</text>
<text x="393.9" y="566.8" font-family="Liberation Sans, sans-serif" font-size="9" fill="#e0e0e8" textLength="51.8" lengthAdjust="spacingAndGlyphs">30 May 17:00</text>
<text x="459.3" y="566.8" font-family="Liberation Sans, sans-serif" font-size="9" fill="#e0e0e8" textLength="51.8" lengthAdjust="spacingAndGlyphs">31 May 08:00</text>
<text x="524.7" y="566.8" font-family="Liberation Sans, sans-serif" font-size="9" fill="#e0e0e8" textLength="51.8" lengthAdjust="spacingAndGlyphs">31 May 20:00</text>
<text x="590.2" y="566.8" font-family="Liberation Sans, sans-serif" font-size="9" fill="#e0e0e8" textLength="44.8" lengthAdjust="spacingAndGlyphs">1 Jun 09:00</text>
<text x="655.6" y="566.8" font-family="Liberation Sans, sans-serif" font-size="9" fill="#e0e0e8" textLength="44.8" lengthAdjust="spacingAndGlyphs">1 Jun 21:00</text>
<text x="721.0" y="566.8" font-family="Liberation Sans, sans-serif" font-size="9" fill="#e0e0e8" textLength="44.8" lengthAdjust="spacingAndGlyphs">2 Jun 10:00</text>
<text x="786.4" y="566.8" font-family="Liberation Sans, sans-serif" font-size="9" fill="#e0e0e8" textLength="44.8" lengthAdjust="spacingAndGlyphs">2 Jun 22:00</text>
<text x="851.8" y="566.8" font-family="Liberation Sans, sans-serif" font-size="9" fill="#e0e0e8" textLength="44.8" lengthAdjust="spacingAndGlyphs">3 Jun 11:00</text>
<text x="917.2" y="566.8" font-family="Liberation Sans, sans-serif" font-size="9" fill="#e0e0e8" textLength="44.8" lengthAdjust="spacingAndGlyphs">3 Jun 23:00</text>
<path d="M3.3 6.3H10.3L6.8 10.3Z" fill="#ffffff"/>
<text x="13.8" y="11.7" font-family="Liberation Sans, sans-serif" font-size="9" fill="#e0e0e8" textLength="44.6" lengthAdjust="spacingAndGlyphs">XAUUSD,H1</text>
<text x="64.2" y="11.7" font-family="Liberation Sans, sans-serif" font-size="9" fill="#e0e0e8" textLength="31.6" lengthAdjust="spacingAndGlyphs">1855.09</text>
<text x="98.3" y="11.7" font-family="Liberation Sans, sans-serif" font-size="9" fill="#e0e0e8" textLength="31.4" lengthAdjust="spacingAndGlyphs">1855.50</text>
<text x="132.1" y="11.7" font-family="Liberation Sans, sans-serif" font-size="9" fill="#e0e0e8" textLength="31.2" lengthAdjust="spacingAndGlyphs">1853.28</text>
<text x="166.1" y="11.7" font-family="Liberation Sans, sans-serif" font-size="9" fill="#e0e0e8" textLength="31.4" lengthAdjust="spacingAndGlyphs">1853.99</text>
<text x="4.6" y="398.7" font-family="Liberation Sans, sans-serif" font-size="9" fill="#e0e0e8" textLength="62.6" lengthAdjust="spacingAndGlyphs">RSI(14) 44.6548</text>
<text x="4.6" y="480.2" font-family="Liberation Sans, sans-serif" font-size="9" fill="#e0e0e8" textLength="112.4" lengthAdjust="spacingAndGlyphs">MACD(12,26,9) -1.709 -2.533</text>
</svg></body></html>
